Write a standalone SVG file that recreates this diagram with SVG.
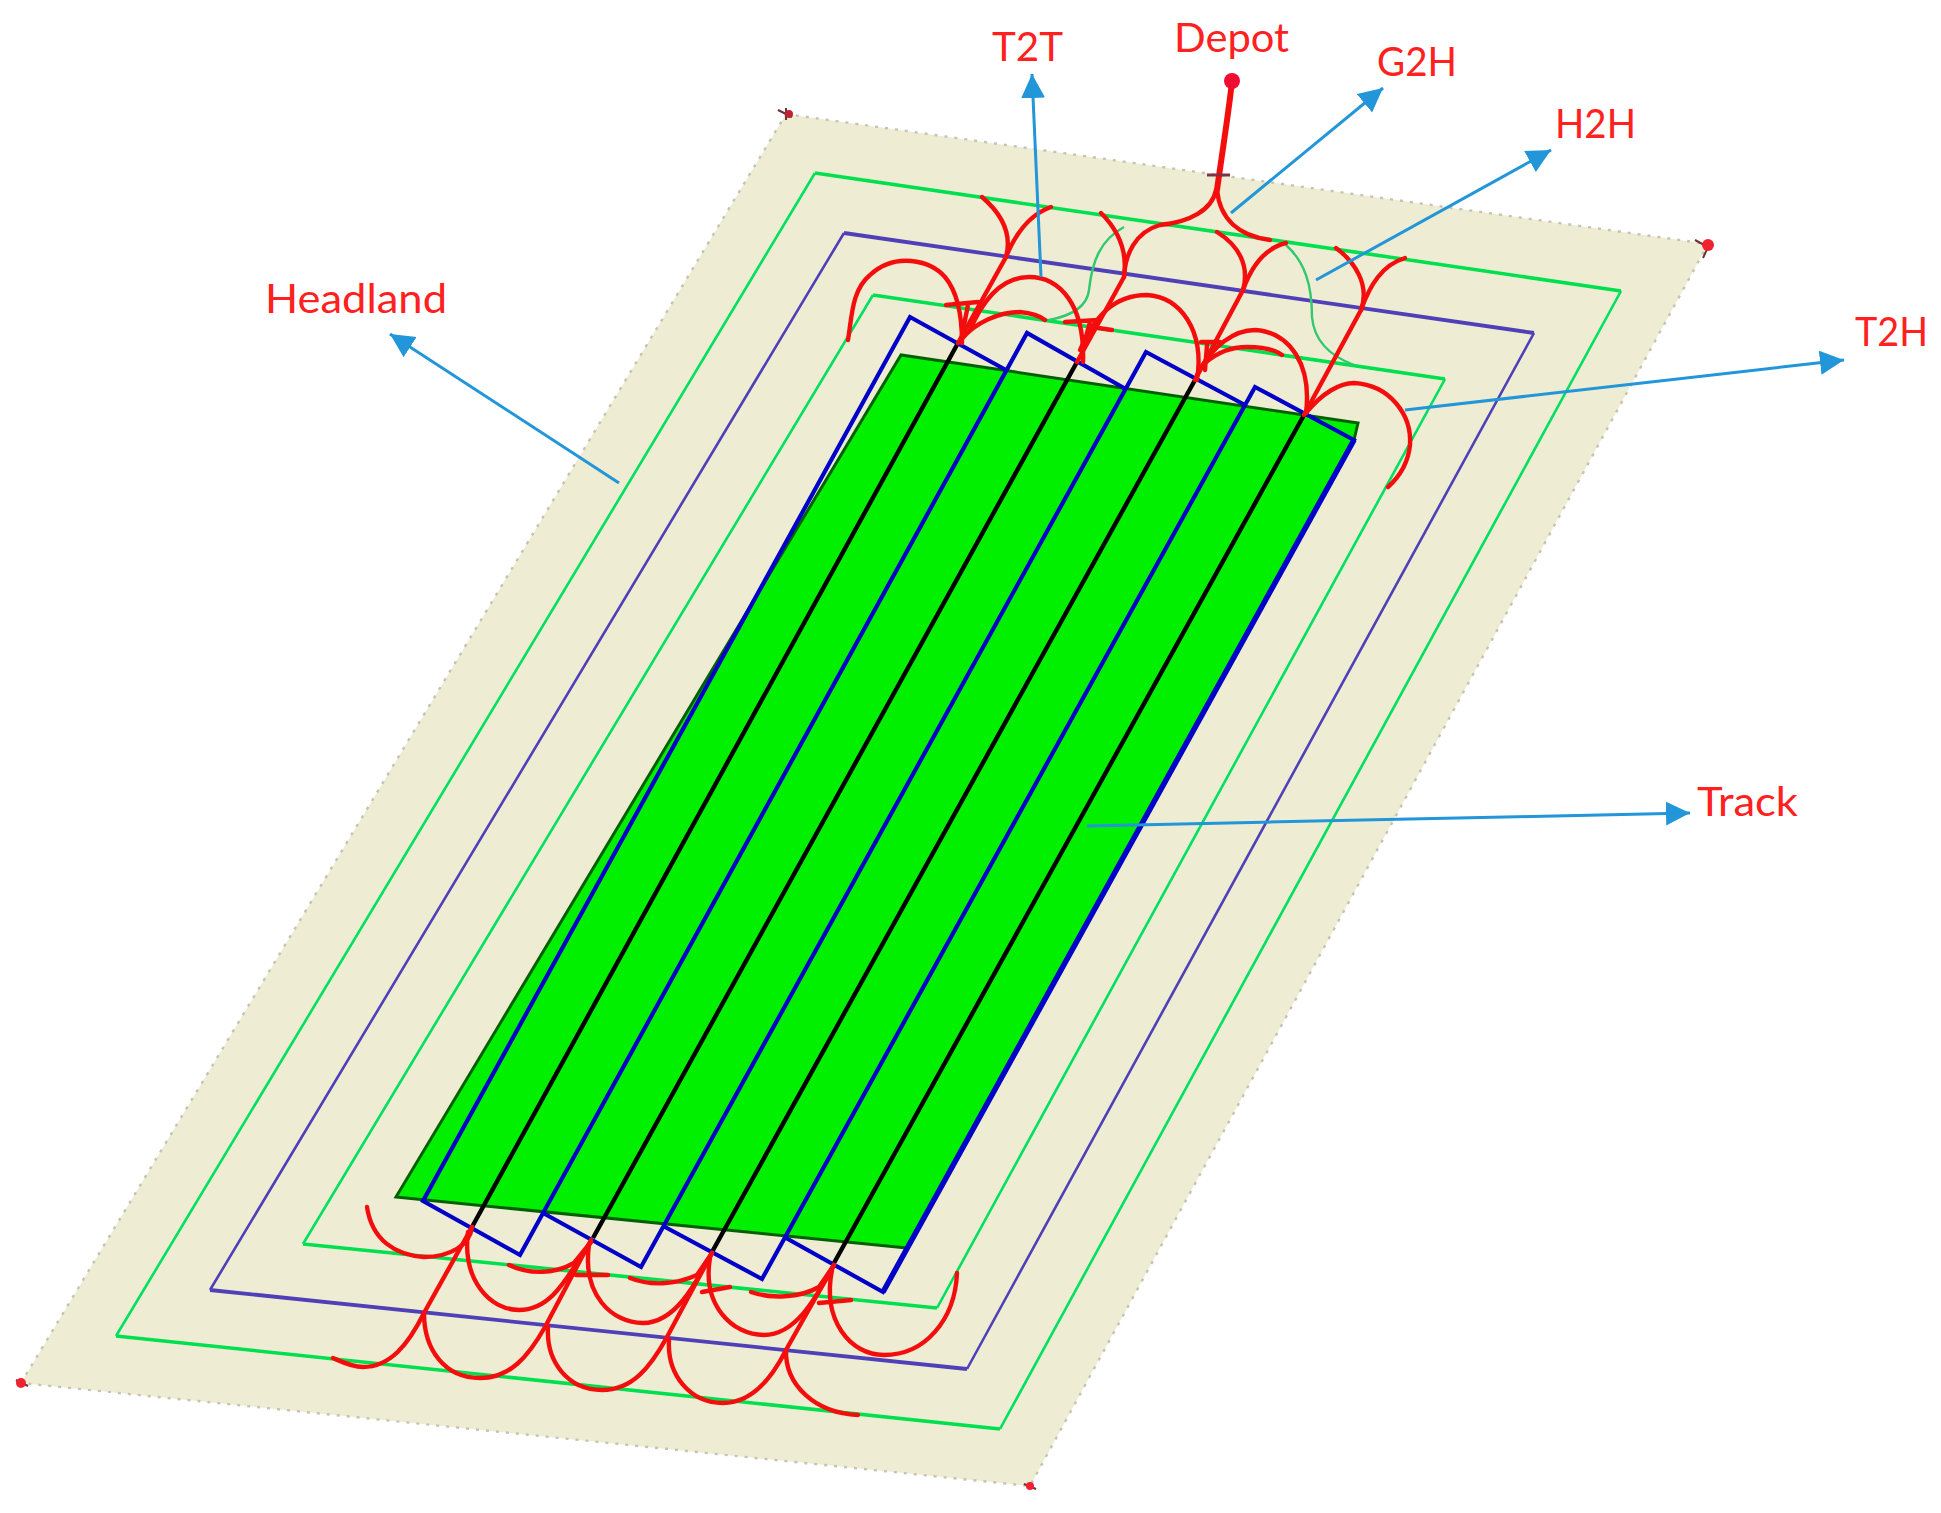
<svg xmlns="http://www.w3.org/2000/svg" width="1941" height="1513" viewBox="0 0 1941 1513">
<style>
.lbl{font-family:Lato,"Open Sans","Liberation Sans",sans-serif;font-size:40px;fill:#ff2020}
.gr{fill:none;stroke:#00e060;stroke-width:2.6}
.grt{fill:none;stroke:#00e050;stroke-width:3.6}
.pu{fill:none;stroke:#5040b8;stroke-width:2.6}
.put{fill:none;stroke:#5040b8;stroke-width:3.8}
.bl{fill:none;stroke:#0000c8;stroke-width:4.2;stroke-linejoin:miter}
.bk{fill:none;stroke:#000;stroke-width:4.4}
.rd{fill:none;stroke:#f41010;stroke-width:4.4;stroke-linecap:round}
.thin{fill:none;stroke:#30c870;stroke-width:2.4}
.ar{stroke:#2096d8;stroke-width:3;fill:none;marker-end:url(#tip)}
</style>
<defs>
<marker id="tip" markerUnits="userSpaceOnUse" markerWidth="28" markerHeight="28" refX="24" refY="12" orient="auto"><path d="M0,0L24,12L0,24Z" fill="#2096d8"/></marker>
<filter id="soft" x="-5%" y="-5%" width="110%" height="110%"><feGaussianBlur stdDeviation="0.7"/></filter>
</defs>
<rect width="1941" height="1513" fill="#fff"/>
<g id="field" filter="url(#soft)">
<polygon points="786,114 1708,244 1030,1486 21,1383" fill="#eeedd3" stroke="#c4c4b4" stroke-width="2.4" stroke-dasharray="3 7"/>
<path d="M778,110L792,117M786,108V120M1695,240L1708,247L1703,258M16,1380L28,1386M1024,1484L1036,1489" stroke="#703030" stroke-width="2" fill="none"/>
<circle cx="1708" cy="245" r="6" fill="#f02030"/><circle cx="21" cy="1383" r="5" fill="#f02030"/><circle cx="1030" cy="1486" r="4" fill="#f02030"/><circle cx="789" cy="114" r="4" fill="#c02030"/>
</g>
<g id="headland-paths" filter="url(#soft)">
<path class="gr" d="M815,173L116,1336M1621,291L1000,1429"/>
<path class="grt" d="M815,173L1621,291M116,1336L1000,1429"/>
<path class="pu" d="M844,233L210,1290M1534,333L967,1369"/>
<path class="put" d="M844,233L1534,333M210,1290L967,1369"/>
<path class="gr" d="M873,295L303,1244M1445,379L937,1308"/>
<path class="grt" d="M873,295L1445,379M303,1244L937,1308"/>
<path class="thin" d="M1124,227C1100,240 1092,262 1089,290C1087,308 1070,316 1049,320"/>
<path class="thin" d="M1286,245C1305,262 1312,285 1312,317C1314,340 1330,356 1354,365"/>
</g>
<g id="track-area" filter="url(#soft)">
<polygon points="901,355 1358,423 1354,440 907,1248 396,1197" fill="#00f000"/>
<path d="M1354,440L1358,423L901,355L396,1197L907,1248" fill="none" stroke="#006000" stroke-width="3"/>
<path class="bk" d="M958,343L472,1227M1077,362L593,1238M1195,380L712,1252M1304,415L834,1263"/>
<path class="bl" d="M1006,370L910,317L423,1201L520,1255L1027,333L1124,388M543,1213L641,1267L1146,352L1245,405M665,1227L762,1279L1255,387L1354,440L883,1292L786,1238"/>
<path class="bl" style="stroke-width:5.5" d="M1354,440L883,1292"/>
</g>
<g id="turns" filter="url(#soft)">
<path class="rd" style="stroke-width:6" d="M1232,81C1229,110 1224,140 1217,190"/>
<circle cx="1232" cy="81" r="8" fill="#f01030"/>
<path d="M1207,175H1230" stroke="#803040" stroke-width="3" fill="none"/>
<path class="rd" d="M1216,190C1212,210 1190,222 1160,225C1135,232 1125,255 1124,277L1077,362"/>
<path class="rd" d="M1217,190C1220,220 1240,236 1270,240"/>
<path class="rd" d="M958,343L1006,257C1015,235 1028,215 1051,207"/>
<path class="rd" d="M1006,257C1012,235 1003,215 982,197"/>
<path class="rd" d="M1124,277C1128,250 1118,230 1101,213"/>
<path class="rd" d="M962,343C962,325 960,295 945,277C930,260 895,252 870,275C852,290 852,315 848,340"/>
<path class="rd" d="M961,340C975,322 1000,312 1020,312C1030,313 1040,316 1045,320"/>
<path class="rd" d="M946,305L978,302M962,335L968,305"/>
<path class="rd" d="M970,330C985,295 1005,277 1029,277C1060,277 1085,305 1083,362"/>
<path class="rd" d="M1080,350C1095,315 1115,295 1147,295C1180,297 1205,330 1197,380"/>
<path class="rd" d="M1065,322L1098,320M1098,328L1112,330M1085,340L1090,322"/>
<path class="rd" d="M1195,380L1243,290C1252,265 1265,248 1286,243"/>
<path class="rd" d="M1243,290C1250,265 1238,245 1217,232"/>
<path class="rd" d="M1197,375C1212,345 1235,330 1255,330C1290,332 1312,365 1306,413"/>
<path class="rd" d="M1205,363C1220,350 1235,347 1247,347C1262,347 1275,350 1282,355"/>
<path class="rd" d="M1201,342L1220,342M1207,345L1205,370"/>
<path class="rd" d="M1304,415L1361,310C1370,285 1382,265 1405,258"/>
<path class="rd" d="M1361,310C1370,285 1355,262 1336,248"/>
<path class="rd" d="M1306,413C1322,393 1340,383 1354,383C1390,385 1412,415 1410,445C1408,465 1398,478 1388,487"/>
<path class="rd" d="M472,1227C470,1245 450,1257 424,1257C395,1255 372,1240 367,1207"/>
<path class="rd" d="M472,1227L424,1313C408,1345 390,1367 363,1367C352,1367 342,1362 333,1358"/>
<path class="rd" d="M591,1240L545,1327C528,1357 510,1378 480,1378C445,1378 424,1350 424,1313"/>
<path class="rd" d="M712,1253L667,1337C650,1368 632,1390 602,1390C568,1390 546,1362 548,1327"/>
<path class="rd" d="M834,1265L786,1350C770,1382 750,1403 723,1403C690,1403 667,1375 669,1340"/>
<path class="rd" d="M786,1350C785,1385 815,1413 858,1415"/>
<path class="rd" d="M468,1232C462,1280 490,1310 519,1310C555,1310 570,1270 591,1242"/>
<path class="rd" d="M589,1245C582,1295 612,1323 643,1323C675,1323 695,1285 712,1253"/>
<path class="rd" d="M710,1258C702,1305 732,1335 764,1335C795,1335 815,1300 834,1265"/>
<path class="rd" d="M832,1270C822,1320 850,1355 884,1355C925,1355 955,1320 957,1273"/>
<path class="rd" d="M509,1265C530,1275 555,1274 574,1263L591,1242"/>
<path class="rd" d="M630,1278C650,1286 675,1285 697,1275L712,1253"/>
<path class="rd" d="M751,1292C770,1299 800,1298 819,1287L834,1265"/>
<path class="rd" d="M576,1275L608,1275M702,1292L730,1287M819,1303L851,1300"/>
</g>
<g id="connectors" filter="url(#soft)">
<path class="ar" d="M1041,277L1032,74"/>
<path class="ar" d="M1231,213L1383,88"/>
<path class="ar" d="M1316,280L1551,150"/>
<path class="ar" d="M1405,410L1844,360"/>
<path class="ar" d="M619,483L390,334"/>
<path class="ar" d="M1087,826L1690,813"/>
</g>
<g id="labels">
<text class="lbl" x="992" y="61" textLength="71" lengthAdjust="spacingAndGlyphs">T2T</text>
<text class="lbl" x="1174" y="52" textLength="115" lengthAdjust="spacingAndGlyphs">Depot</text>
<text class="lbl" x="1377" y="76" textLength="80" lengthAdjust="spacingAndGlyphs">G2H</text>
<text class="lbl" x="1555" y="138" textLength="81" lengthAdjust="spacingAndGlyphs">H2H</text>
<text class="lbl" x="1855" y="346" textLength="73" lengthAdjust="spacingAndGlyphs">T2H</text>
<text class="lbl" x="265" y="313" textLength="182" lengthAdjust="spacingAndGlyphs">Headland</text>
<text class="lbl" x="1697" y="816" textLength="101" lengthAdjust="spacingAndGlyphs">Track</text>
</g>
</svg>
